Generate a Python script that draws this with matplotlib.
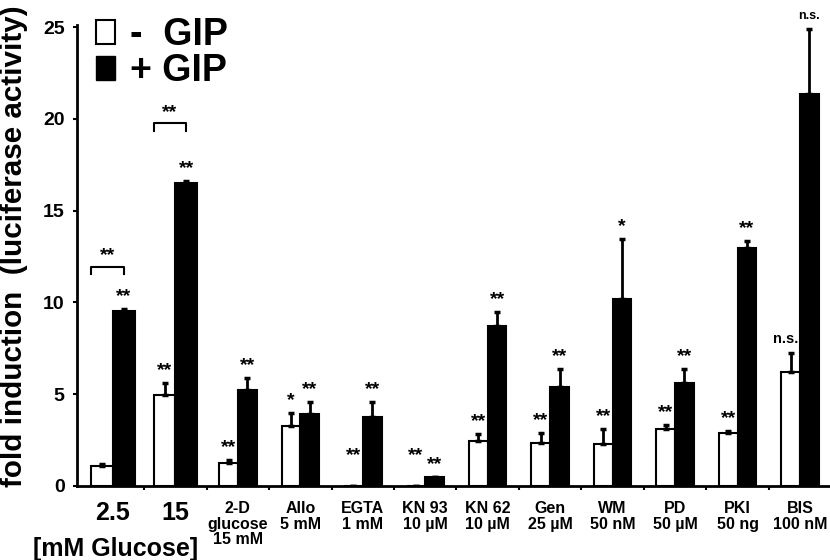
import numpy as np
import matplotlib
matplotlib.use("Agg")
import matplotlib.pyplot as plt
from matplotlib.patches import Patch

plt.rcParams['font.family'] = ['Liberation Sans', 'DejaVu Sans']
plt.rcParams['font.weight'] = 'bold'

# Daten
categories = ['2.5', '15', '2-D\nglucose\n15 mM', 'Allo\n5 mM', 'EGTA\n1 mM',
              'KN 93\n10 µM', 'KN 62\n10 µM', 'Gen\n25 µM', 'WM\n50 nM',
              'PD\n50 µM', 'PKI\n50 ng', 'BIS\n100 nM']
minus_gip = [1.1, 4.95, 1.25, 3.27, 0.0, 0.0, 2.47, 2.34, 2.29, 3.1, 2.89, 6.23]
minus_err = [0.08, 0.67, 0.15, 0.69, 0.0, 0.0, 0.34, 0.56, 0.8, 0.22, 0.09, 1.03]
plus_gip = [9.55, 16.52, 5.23, 3.9, 3.74, 0.49, 8.71, 5.4, 10.17, 5.6, 12.98, 21.35]
plus_err = [0.09, 0.08, 0.65, 0.69, 0.82, 0.0, 0.75, 0.96, 3.27, 0.76, 0.35, 3.55]
minus_sig = ['', '**', '**', '*', '**', '**', '**', '**', '**', '**', '**', 'n.s.']
plus_sig = ['**', '**', '**', '**', '**', '**', '**', '**', '*', '**', '**', 'n.s.']
bracket_y = [11.95, 19.75]  # Klammern "-GIP vs +GIP" bei 2.5 und 15 mM

x = np.arange(len(categories))
w = np.where(x < 2, 0.35, 0.3)

fig = plt.figure(figsize=(8.3, 5.6), dpi=100)
ax = fig.add_axes([77 / 830, 74 / 560, 753 / 830, 460.8 / 560])

ax.bar(x - w / 2, minus_gip, w, color='white', edgecolor='black', linewidth=1.5,
       yerr=[np.zeros(len(x)), minus_err], ecolor='black',
       error_kw=dict(elinewidth=2, capsize=2.5, capthick=2.5))
ax.bar(x + w / 2, plus_gip, w, color='black', edgecolor='black', linewidth=1.5,
       yerr=[np.zeros(len(x)), plus_err], ecolor='black',
       error_kw=dict(elinewidth=2, capsize=2.5, capthick=2.5))

# Sterne ueber den Balken
for i in x:
    for side, val, err, lab in [(-1, minus_gip[i], minus_err[i], minus_sig[i]),
                                (1, plus_gip[i], plus_err[i], plus_sig[i])]:
        if not lab:
            continue
        xs = x[i] + side * w[i] / 2
        base = val + err if val > 0 else 1.0
        ns = lab == 'n.s.'
        if ns and side < 0:
            ax.annotate(lab, (xs + w[i] / 2, base), xytext=(-1, 5), textcoords='offset points',
                        ha='right', va='bottom', fontsize=10.5, fontweight='bold', zorder=5)
        elif ns:
            ax.annotate(lab, (xs, base), xytext=(0, 5), textcoords='offset points',
                        ha='center', va='bottom', fontsize=9, fontweight='bold', zorder=5)
        else:
            ax.annotate(lab, (xs, base), xytext=(0, 9), textcoords='offset points',
                        ha='center', va='center', fontsize=14, fontweight='bold', zorder=5)

# Klammern
for i, yb in enumerate(bracket_y):
    x0, x1 = x[i] - w[i], x[i] + w[i] / 2
    ax.plot([x0, x0, x1, x1], [yb - 0.4, yb, yb, yb - 0.4], color='black', lw=1.5)
    ax.annotate('**', ((x0 + x1) / 2, yb), xytext=(0, 8), textcoords='offset points',
                ha='center', va='center', fontsize=14, fontweight='bold')

ax.set_xlim(-0.576, 11.48)
ax.set_ylim(0, 25.1)
ax.set_yticks([0, 5, 10, 15, 20, 25])
ax.tick_params(axis='y', labelsize=14, length=3, width=1.5, pad=6)
ax.set_xticks(x)
ax.set_xticklabels(categories, fontsize=11.5, linespacing=1.05)
for lab in ax.get_xticklabels()[:2]:
    lab.set_fontsize(18)
ax.tick_params(axis='x', which='major', length=0, pad=11)
ax.set_xticks(x[:-1] + 0.5, minor=True)
ax.tick_params(axis='x', which='minor', length=3, width=1.5)

for s in ['top', 'right']:
    ax.spines[s].set_visible(False)
for s in ['left', 'bottom']:
    ax.spines[s].set_linewidth(2)

ax.set_ylabel('fold induction  (luciferase activity)', fontsize=21.3, fontweight='bold',
              va='center')
ax.yaxis.set_label_coords(-0.0837, 0.52)

fig.text(33 / 830, 1 - 549 / 560, '[mM Glucose]', fontsize=18, fontweight='bold',
         ha='left', va='center')

handles = [Patch(facecolor='white', edgecolor='black', linewidth=1.5),
           Patch(facecolor='black', edgecolor='black')]
fig.legend(handles, ['-  GIP', '+ GIP'], loc='upper left',
           bbox_to_anchor=(96 / 830, 1 - 17 / 560), frameon=False,
           prop=dict(size=27, weight='bold'), handlelength=0.5, handleheight=0.62,
           handletextpad=0.4, labelspacing=0.0, borderpad=0, borderaxespad=0)

fig.savefig('out.png', dpi=100)
